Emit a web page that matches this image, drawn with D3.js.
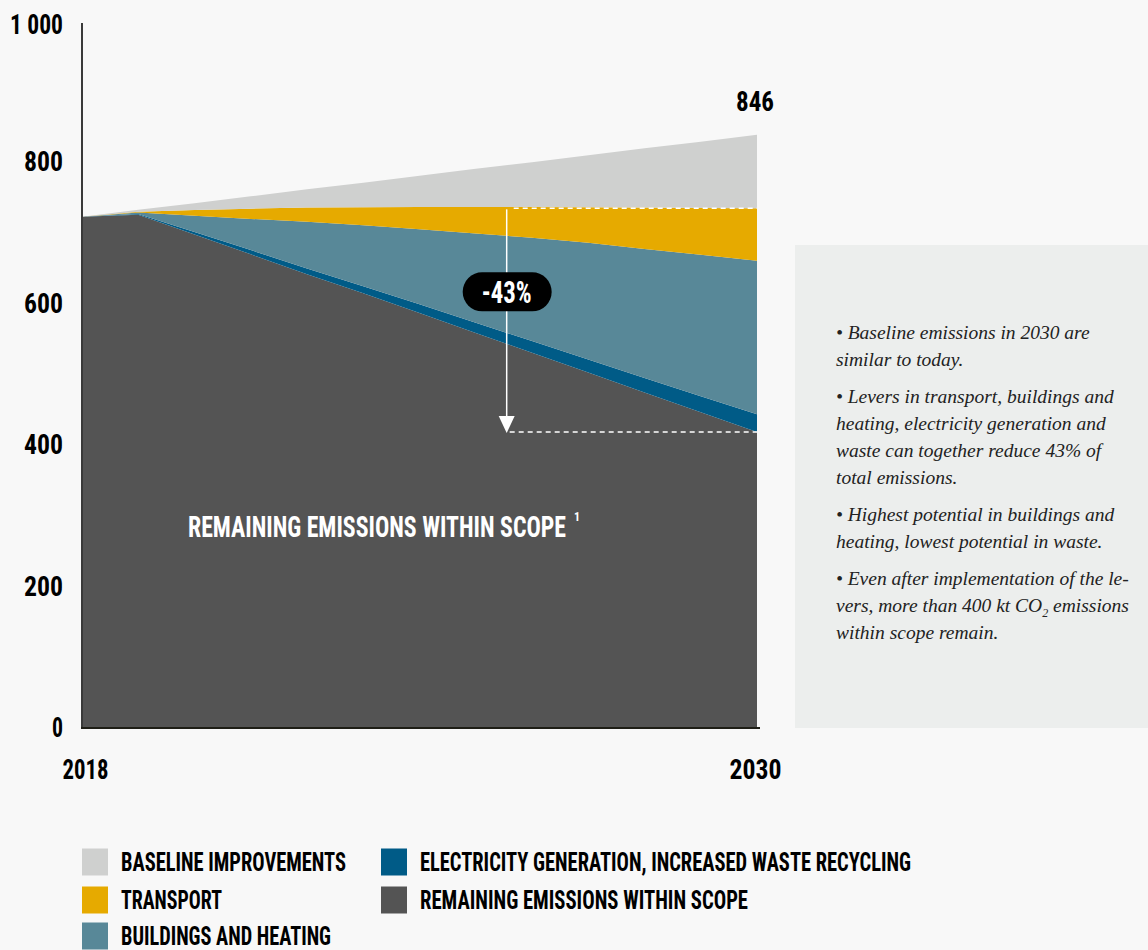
<!DOCTYPE html>
<html>
<head>
<meta charset="utf-8">
<script src="https://cdn.jsdelivr.net/npm/d3@7"></script>
<style>
  body { margin: 0; background: #f8f8f8; }
  svg { display: block; }
  .cond { font-family: "Liberation Sans Narrow", "Roboto Condensed", "Arial Narrow", "DejaVu Sans Condensed", sans-serif; font-weight: bold; font-stretch: condensed; }
  .note { font-family: "Liberation Serif", "DejaVu Serif", serif; font-style: italic; font-size: 19.5px; fill: #222; }
</style>
</head>
<body>
<svg width="1148" height="950"></svg>
<script>
var years = [2018, 2019, 2020, 2021, 2022, 2023, 2024, 2025, 2026, 2027, 2028, 2029, 2030];
var remaining   = [722, 725, 697, 669, 641, 614, 586, 558, 530, 502, 474, 446, 418];
var electricity = [0, 1, 3.5, 6, 8, 10, 12.5, 14.5, 16.5, 18.5, 20.5, 22.5, 25];
var buildings   = [0, 2, 23, 44, 66, 86, 106, 126, 146, 165, 182, 200, 217];
var transport   = [0, 1, 8, 14.5, 20, 25.5, 31.5, 37.5, 43.5, 50, 58.5, 66, 74];
var baseline    = [0, 3, 9.5, 17.5, 26, 34.5, 44, 54, 63, 73.5, 84, 93.5, 104];

var yTicks = [0, 200, 400, 600, 800, 1000];
var xTicks = [2018, 2030];
var totalLabel = "846";

var keys = ["remaining", "electricity", "buildings", "transport", "baseline"];
var colors = {
  baseline: "#cfd0cf",
  transport: "#e6aa00",
  buildings: "#588898",
  electricity: "#005b87",
  remaining: "#545454"
};
var legendCols = [
  [["baseline", "BASELINE IMPROVEMENTS", 225], ["transport", "TRANSPORT", 101], ["buildings", "BUILDINGS AND HEATING", 210]],
  [["electricity", "ELECTRICITY GENERATION, INCREASED WASTE RECYCLING", 491], ["remaining", "REMAINING EMISSIONS WITHIN SCOPE", 328]]
];

// widths of the condensed labels in the reference
var labelWidth = {"1 000": 53, "800": 39, "600": 39, "400": 39, "200": 39, "0": 11, "2018": 46, "2030": 52, "846": 38};

var notes = [
  ["• Baseline emissions in 2030 are", "similar to today."],
  ["• Levers in transport, buildings and", "heating, electricity generation and", "waste can together reduce 43% of", "total emissions."],
  ["• Highest potential in buildings and", "heating, lowest potential in waste."],
  ["• Even after implementation of the le-", "vers, more than 400 kt CO|2| emissions", "within scope remain."]
];

var table = years.map(function(yr, i) {
  return {year: yr, remaining: remaining[i], electricity: electricity[i],
          buildings: buildings[i], transport: transport[i], baseline: baseline[i]};
});

var svg = d3.select("svg");

var x = d3.scaleLinear().domain([2018, 2030]).range([82, 757]),
    y = d3.scaleLinear().domain([0, 1000]).range([728, 20]);

var series = d3.stack().keys(keys)(table);

var area = d3.area()
  .x(function(d) { return x(d.data.year); })
  .y0(function(d) { return y(d[0]); })
  .y1(function(d) { return y(d[1]); });

svg.append("g").selectAll("path")
  .data(series)
  .enter().append("path")
    .attr("d", area)
    .attr("fill", function(d) { return colors[d.key]; });

// note box
svg.append("rect")
  .attr("x", 795).attr("y", 245)
  .attr("width", 353).attr("height", 483)
  .attr("fill", "#eceeed");

var ny = 339;
notes.forEach(function(par) {
  par.forEach(function(line) {
    var t = svg.append("text").attr("class", "note").attr("x", 836).attr("y", ny);
    var parts = line.split("|");
    t.append("tspan").text(parts[0]);
    if (parts.length > 1) {
      t.append("tspan").attr("font-size", 12).attr("dy", 5).text(parts[1]);
      t.append("tspan").attr("dy", -5).text(parts[2]);
    }
    ny += 27;
  });
  ny += 10;
});

function fit(sel) {
  sel.attr("textLength", function() { return labelWidth[this.textContent]; })
    .attr("lengthAdjust", "spacingAndGlyphs");
}

// axes
var yAxis = svg.append("g")
  .attr("transform", "translate(82,0)")
  .call(d3.axisLeft(y).tickValues(yTicks).tickSize(0).tickPadding(19)
    .tickFormat(function(d) { return d === 1000 ? "1 000" : d; }));
yAxis.select(".domain").remove();
yAxis.selectAll("text")
  .attr("class", "cond")
  .attr("font-size", 28)
  .attr("fill", "#000")
  .attr("y", function(d) { return d === 1000 ? 5 : 0; })
  .call(fit);

var xAxis = svg.append("g")
  .attr("transform", "translate(0,728)")
  .call(d3.axisBottom(x).tickValues(xTicks).tickSize(0).tickPadding(31).tickFormat(d3.format("d")));
xAxis.select(".domain").remove();
xAxis.selectAll("text")
  .attr("class", "cond")
  .attr("font-size", 28)
  .attr("fill", "#000")
  .attr("x", function(d) { return d === 2018 ? 3 : -2; })
  .call(fit);

svg.append("line")
  .attr("x1", 82).attr("x2", 82).attr("y1", 23).attr("y2", 729)
  .attr("stroke", "#3a3a3a").attr("stroke-width", 2);
svg.append("line")
  .attr("x1", 81).attr("x2", 760).attr("y1", 728).attr("y2", 728)
  .attr("stroke", "#1e1e16").attr("stroke-width", 2);

// total label
var last = table.length - 1;
var total = series[4][last][1];
svg.append("text")
  .attr("class", "cond")
  .attr("x", x(2030) - 2).attr("y", y(total) - 33)
  .attr("dy", "0.35em")
  .attr("text-anchor", "middle")
  .attr("font-size", 28)
  .text(totalLabel)
  .call(fit);

// reduction annotation
var arrowYear = 2025.55;
var before = series[3][last][1],
    after = remaining[last];
var ax = x(arrowYear);

svg.append("line")
  .attr("x1", ax + 7).attr("x2", x(2030)).attr("y1", y(before)).attr("y2", y(before))
  .attr("stroke", "#fff").attr("stroke-width", 1.5).attr("stroke-dasharray", "5,4");
svg.append("line")
  .attr("x1", ax + 3).attr("x2", x(2030)).attr("y1", y(after)).attr("y2", y(after))
  .attr("stroke", "#fff").attr("stroke-width", 1.5).attr("stroke-dasharray", "5,4");
svg.append("line")
  .attr("x1", ax).attr("x2", ax).attr("y1", y(before) + 1).attr("y2", y(after) - 14)
  .attr("stroke", "#fff").attr("stroke-width", 1.5);
svg.append("path")
  .attr("d", "M" + (ax - 8) + "," + (y(after) - 16) + "L" + (ax + 8) + "," + (y(after) - 16) + "L" + ax + "," + (y(after) + 1) + "Z")
  .attr("fill", "#fff");

var pct = Math.round((after - before) / before * 100);
var py = y(616);
svg.append("rect")
  .attr("x", ax - 44).attr("y", py - 19.5)
  .attr("width", 89).attr("height", 39)
  .attr("rx", 19.5)
  .attr("fill", "#000");
svg.append("text")
  .attr("class", "cond")
  .attr("x", ax).attr("y", py)
  .attr("dy", "0.36em")
  .attr("text-anchor", "middle")
  .attr("font-size", 32)
  .attr("fill", "#fff")
  .attr("textLength", 50).attr("lengthAdjust", "spacingAndGlyphs")
  .text(pct + "%");

svg.append("text")
  .attr("class", "cond")
  .attr("x", 188).attr("y", 527)
  .attr("dy", "0.36em")
  .attr("font-size", 29)
  .attr("fill", "#fff")
  .attr("textLength", 378).attr("lengthAdjust", "spacingAndGlyphs")
  .text("REMAINING EMISSIONS WITHIN SCOPE");
svg.append("text")
  .attr("class", "cond")
  .attr("x", 574).attr("y", 521)
  .attr("font-size", 12)
  .attr("fill", "#fff")
  .text("1");

// legend
var rowY = [862, 900, 936];
legendCols.forEach(function(col, ci) {
  var lx = ci === 0 ? 82 : 381;
  col.forEach(function(item, ri) {
    svg.append("rect")
      .attr("x", lx).attr("y", rowY[ri] - 13.5)
      .attr("width", 26).attr("height", 27)
      .attr("fill", colors[item[0]]);
    svg.append("text")
      .attr("class", "cond")
      .attr("x", lx + 39).attr("y", rowY[ri])
      .attr("dy", "0.36em")
      .attr("font-size", 25)
      .attr("fill", "#000")
      .attr("textLength", item[2]).attr("lengthAdjust", "spacingAndGlyphs")
      .text(item[1]);
  });
});
</script>
</body>
</html>
